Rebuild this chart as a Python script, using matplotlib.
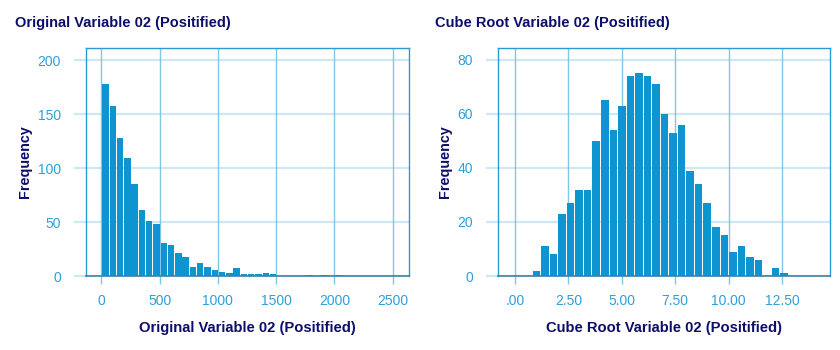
import numpy as np
import matplotlib
matplotlib.use("Agg")
import matplotlib.pyplot as plt
from matplotlib.ticker import FixedLocator, FixedFormatter

# left panel: original variable, bins of 62.5 starting near 5
orig_bin_start = 5.0
orig_bin_width = 62.5
orig_counts = [178, 157, 128, 109, 85, 61, 51, 48, 31, 29, 21, 18, 8, 12,
               8, 6, 4, 3, 7, 2, 2, 2, 3, 2, 0, 0, 0, 0, 1, 0, 1, 0, 1]
orig_xticks = [0, 500, 1000, 1500, 2000, 2500]
orig_xticklabels = ["0", "500", "1000", "1500", "2000", "2500"]
orig_yticks = [0, 50, 100, 150, 200]

# right panel: cube root, bins of 0.4 starting at 0.8
cube_bin_start = 0.8
cube_bin_width = 0.4
cube_counts = [2, 11, 8, 23, 27, 32, 32, 50, 65, 54, 63, 74, 75, 74, 71,
               60, 53, 56, 39, 34, 27, 18, 15, 9, 11, 7, 6, 0, 3, 1]
cube_xticks = [0, 2.5, 5.0, 7.5, 10.0, 12.5]
cube_xticklabels = [".00", "2.50", "5.00", "7.50", "10.00", "12.50"]
cube_yticks = [0, 20, 40, 60, 80]

title_left = "Original Variable 02 (Positified)"
title_right = "Cube Root Variable 02 (Positified)"

NAVY = "#0d0d6b"
TICK_BLUE = "#2f9fd9"
BAR = "#0e94d0"
GRID_H = "#cde7f3"
GRID_V = "#82c6e6"
SPINE = "#2a9ad4"

plt.rcParams["font.family"] = ["Liberation Sans", "DejaVu Sans"]


def draw_hist(ax, start, width, counts, xticks, xlabels, yticks,
              xlim, ylim, xlabel):
    edges = start + width * np.arange(len(counts))
    ax.set_axisbelow(True)
    # narrow white gap between bars, like the light outline in SPSS
    ax.bar(edges + width * 0.06, counts, width=width * 0.88, align="edge",
           color=BAR, edgecolor="none", linewidth=0, zorder=3)
    ax.set_xlim(*xlim)
    ax.set_ylim(*ylim)

    ax.xaxis.set_major_locator(FixedLocator(xticks))
    ax.xaxis.set_major_formatter(FixedFormatter(xlabels))
    ax.set_yticks(yticks)
    ax.set_yticklabels([str(v) for v in yticks])

    for v in yticks:
        ax.axhline(v, color=GRID_H, lw=1.6, zorder=1)
    for v in xticks:
        ax.axvline(v, color=GRID_V, lw=1.0, zorder=1)

    ax.tick_params(axis="x", length=6, width=1.0, color=GRID_V,
                   labelcolor=TICK_BLUE, labelsize=10, pad=7)
    ax.tick_params(axis="y", length=9, width=1.6, color=GRID_H,
                   labelcolor=TICK_BLUE, labelsize=10, pad=9)

    for side in ("left", "right", "top"):
        ax.spines[side].set_color(SPINE)
        ax.spines[side].set_linewidth(1.0)
    ax.spines["bottom"].set_color("#3f7fa6")
    ax.spines["bottom"].set_linewidth(1.2)
    ax.spines["bottom"].set_zorder(4)

    ax.set_xlabel(xlabel, color=NAVY, fontsize=10.6, fontweight="bold",
                  labelpad=9)
    ax.set_ylabel("Frequency", color=NAVY, fontsize=10.4,
                  fontweight="bold", labelpad=4)


fig = plt.figure(figsize=(8.4, 3.5), dpi=100)
ax1 = fig.add_axes([0.1024, 0.2114, 0.3845, 0.6514])
ax2 = fig.add_axes([0.5929, 0.2114, 0.3952, 0.6514])

draw_hist(ax1, orig_bin_start, orig_bin_width, orig_counts,
          orig_xticks, orig_xticklabels, orig_yticks,
          (-131, 2639), (0, 211.1), title_left)
draw_hist(ax2, cube_bin_start, cube_bin_width, cube_counts,
          cube_xticks, cube_xticklabels, cube_yticks,
          (-0.80, 14.75), (0, 84.4), title_right)

fig.text(15 / 840, 1 - 23 / 350, title_left, color=NAVY, fontsize=10.5,
         fontweight="bold", va="center", ha="left")
fig.text(435 / 840, 1 - 23 / 350, title_right, color=NAVY, fontsize=10.5,
         fontweight="bold", va="center", ha="left")

fig.savefig("out.png", dpi=100, facecolor="white")
